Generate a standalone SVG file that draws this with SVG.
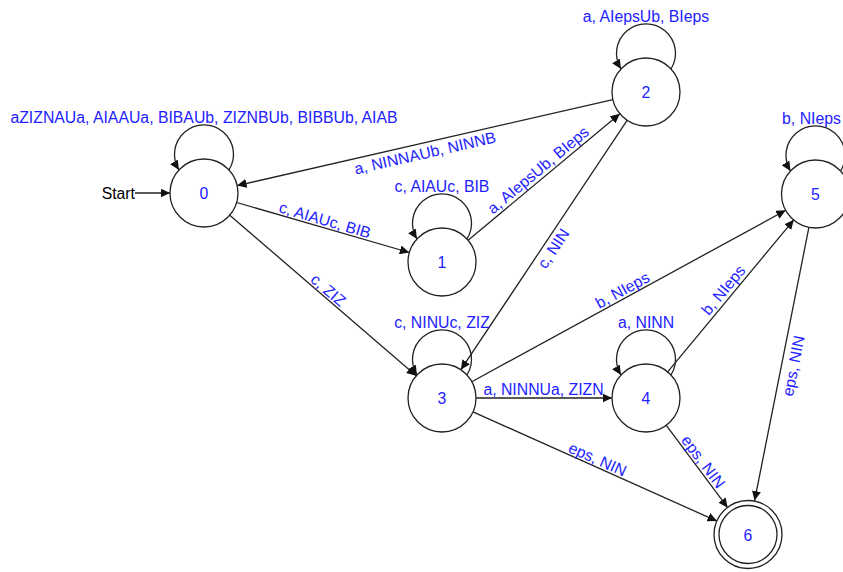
<svg xmlns="http://www.w3.org/2000/svg" width="843" height="572" viewBox="0 0 843 572">
<style>
.node circle{fill:#fff;stroke:#222;stroke-width:1.3}
.node text{font-family:"Liberation Sans",Arial,sans-serif;font-size:15.8px;fill:#2222ff;text-anchor:middle}
.edge{fill:none;stroke:#222;stroke-width:1.3;marker-end:url(#arr)}
.lbl{font-family:"Liberation Sans",Arial,sans-serif;font-size:15.8px;fill:#2222ff;text-anchor:middle}
.start{font-family:"Liberation Sans",Arial,sans-serif;font-size:15.8px;fill:#000;text-anchor:end}
</style>
<defs>
<marker id="arr" markerUnits="userSpaceOnUse" markerWidth="10" markerHeight="9" refX="9.5" refY="4.5" orient="auto">
<path d="M0,0 L9.5,4.5 L0,9 z" fill="#111"/>
</marker>
</defs>
<rect width="843" height="572" fill="#fff"/>
<g id="connectors">
<line class="edge" x1="135" y1="193" x2="170" y2="193"/>
<path class="edge" d="M229,170 A29.5,29.5 0 1 0 179,170"/>
<path class="edge" d="M467,239 A29.5,29.5 0 1 0 417,239"/>
<path class="edge" d="M671,69 A29.5,29.5 0 1 0 621,69"/>
<path class="edge" d="M467,375 A29.5,29.5 0 1 0 417,375"/>
<path class="edge" d="M671,375 A29.5,29.5 0 1 0 621,375"/>
<path class="edge" d="M840.5,171 A29.5,29.5 0 1 0 790.5,171"/>
<line class="edge" x1="236.7" y1="202.5" x2="409.3" y2="252.5"/>
<line class="edge" x1="612.9" y1="99.6" x2="237.1" y2="185.6"/>
<line class="edge" x1="468.1" y1="240.2" x2="619.9" y2="113.8"/>
<line class="edge" x1="627.1" y1="120.3" x2="460.9" y2="369.7"/>
<line class="edge" x1="229.8" y1="215.2" x2="416.2" y2="375.8"/>
<line class="edge" x1="476" y1="398" x2="612" y2="398"/>
<line class="edge" x1="471.8" y1="381.7" x2="785.7" y2="210.3"/>
<line class="edge" x1="667.7" y1="371.8" x2="793.8" y2="219.8"/>
<line class="edge" x1="666.3" y1="425.3" x2="727.7" y2="507.7"/>
<line class="edge" x1="473" y1="411.9" x2="717" y2="521.1"/>
<line class="edge" x1="808.9" y1="227.4" x2="754.6" y2="500.6"/>
<text class="start" x="135" y="199">Start</text>
<text class="lbl" x="204" y="123">aZIZNAUa, AIAAUa, BIBAUb, ZIZNBUb, BIBBUb, AIAB</text>
<text class="lbl" x="442" y="192">c, AIAUc, BIB</text>
<text class="lbl" x="646" y="22">a, AIepsUb, BIeps</text>
<text class="lbl" x="442" y="328">c, NINUc, ZIZ</text>
<text class="lbl" x="646" y="328">a, NINN</text>
<text class="lbl" x="811.5" y="124">b, NIeps</text>
<text class="lbl" x="543.5" y="395">a, NINNUa, ZIZN</text>
<text class="lbl" transform="translate(325,220) rotate(16.2)" y="5.5">c, AIAUc, BIB</text>
<text class="lbl" transform="translate(425,153) rotate(-12.9)" y="5.5">a, NINNAUb, NINNB</text>
<text class="lbl" transform="translate(538,170) rotate(-39.8)" y="5.5">a, AIepsUb, BIeps</text>
<text class="lbl" transform="translate(553.3,248.5) rotate(-56.3)" y="5.5">c, NIN</text>
<text class="lbl" transform="translate(328.3,290) rotate(40.7)" y="5.5">c, ZIZ</text>
<text class="lbl" transform="translate(622.5,290) rotate(-28.6)" y="5.5">b, NIeps</text>
<text class="lbl" transform="translate(723.3,290) rotate(-50.3)" y="5.5">b, NIeps</text>
<text class="lbl" transform="translate(703.3,461.7) rotate(53.3)" y="5.5">eps, NIN</text>
<text class="lbl" transform="translate(597.5,459.2) rotate(24.1)" y="5.5">eps, NIN</text>
<text class="lbl" transform="translate(793.3,365.8) rotate(-78.8)" y="5.5">eps, NIN</text>
</g>
<g id="node0" class="node"><circle cx="204" cy="193" r="34"/><text x="204" y="199">0</text></g>
<g id="node1" class="node"><circle cx="442" cy="262" r="34"/><text x="442" y="268">1</text></g>
<g id="node2" class="node"><circle cx="646" cy="92" r="34"/><text x="646" y="98">2</text></g>
<g id="node3" class="node"><circle cx="442" cy="398" r="34"/><text x="442" y="404">3</text></g>
<g id="node4" class="node"><circle cx="646" cy="398" r="34"/><text x="646" y="404">4</text></g>
<g id="node5" class="node"><circle cx="815.5" cy="194" r="34"/><text x="815.5" y="200">5</text></g>
<g id="node6" class="node"><circle cx="748" cy="534.5" r="34"/><circle cx="748" cy="534.5" r="29"/><text x="748" y="540.5">6</text></g>
</svg>
